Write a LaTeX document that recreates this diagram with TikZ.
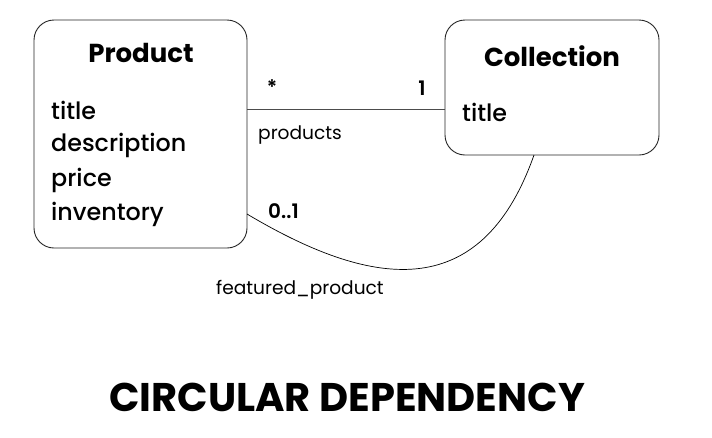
\documentclass[tikz,border=0pt]{standalone}
\usepackage{fontspec}
\setmainfont{Poppins}
\newfontfamily\medfont{Poppins Medium}
\newfontfamily\semifont{Poppins SemiBold}
\begin{document}
\begin{tikzpicture}[x=1pt,y=-1pt,
  entity/.style={draw=black!85,line width=0.9pt,rounded corners=20pt},
  etitle/.style={font=\fontsize{26}{30}\selectfont\bfseries,anchor=center},
  attr/.style={font=\fontsize{23.8}{28}\selectfont\medfont,anchor=west,inner sep=0pt},
  card/.style={font=\fontsize{20}{24}\selectfont\semifont,anchor=center,inner sep=0pt},
  role/.style={font=\fontsize{18.6}{22}\selectfont,anchor=west,inner sep=0pt},
  assoc/.style={draw=black!70,line width=0.9pt}]
\useasboundingbox (0,0) rectangle (712,437);
\fill[white] (0,0) rectangle (712,437);
% Product
\draw[entity] (34,20) rectangle (247,248);
\node[etitle] (ptitle) at (141,53) {Product};
\node[attr] (a1) at (51,110) {title};
\node[attr] (a2) at (51,145) {description};
\node[attr] (a3) at (51,180) {price};
\node[attr] (a4) at (51,214) {inventory};
% Collection
\draw[entity] (445,20) rectangle (659,155);
\node[etitle] (ctitle) at (552,56) {Collection};
\node[attr] (c1) at (462,112) {title};
% anchors
\coordinate (pr) at (247,109);
\coordinate (cl) at (445,109);
\coordinate (pf) at (247,214);
\coordinate (cb) at (534,155);
\draw[assoc] (pr) -- (cl);
\draw[line width=0.7pt] (pf) .. controls (368,286) and (480,308) .. (cb);
% labels
\node[card] (m1) at (272,87) {*};
\node[card] (m2) at (422,88) {1};
\node[role] (r1) at (258,135) {products};
\node[card,anchor=west] (m3) at (268,211) {0..1};
\node[role] (r2) at (216,290) {featured\_product};
\node[font=\fontsize{40}{44}\selectfont\bfseries] (t) at (347,397) {CIRCULAR DEPENDENCY};
\end{tikzpicture}
\end{document}
